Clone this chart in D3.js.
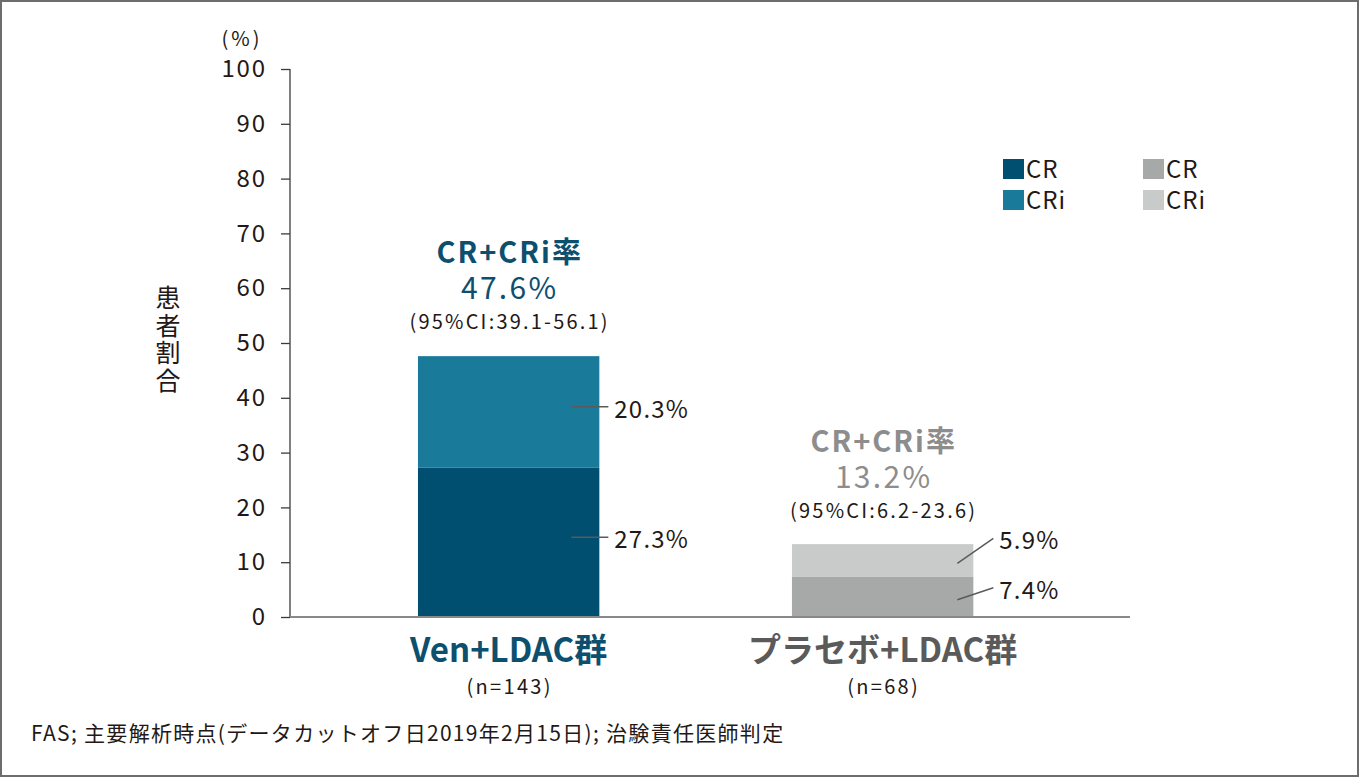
<!DOCTYPE html>
<html><head><meta charset="utf-8">
<script src="https://cdn.jsdelivr.net/npm/d3@7"></script>
<style>
html,body{margin:0;padding:0;background:#fff;}
svg text{font-family:"Noto Sans CJK JP","Noto Sans",sans-serif;}
</style></head>
<body><svg id="c" width="1360" height="778"></svg>
<script>
const groups = ["Ven+LDAC群", "プラセボ+LDAC群"];
const groupN = ["(n=143)", "(n=68)"];
const crValues = [27.3, 7.4];
const criValues = [20.3, 5.9];
const totalValues = [47.6, 13.2];
const ciLabels = ["(95%CI:39.1-56.1)", "(95%CI:6.2-23.6)"];
const yTicks = [0,10,20,30,40,50,60,70,80,90,100];
const legendLabels = ["CR", "CRi"];

const colorsCR = ["#004f71", "#a7a8a8"];
const colorsCRi = ["#1a7a9a", "#c9caca"];
const titleColors = ["#0d4f6e", "#8d8d8d"];
const groupLabelColors = ["#0d4f6e", "#5a5a5a"];
const textColor = "#231815";

const svg = d3.select("#c");
svg.append("rect").attr("x",1).attr("y",1).attr("width",1357).attr("height",775)
  .attr("fill","#fff").attr("stroke","#6d6d6d").attr("stroke-width",2);

const y = d3.scaleLinear().domain([0,100]).range([617,69]);
const x = d3.scaleBand().domain(groups).range([322.6,1068.7]).paddingInner(0.515).paddingOuter(0.255);

// y axis
const yAxis = d3.axisLeft(y).tickValues(yTicks).tickSize(9).tickPadding(16);
const gy = svg.append("g").attr("transform","translate(290,0)").call(yAxis);
gy.select(".domain").attr("stroke","#3e3a39").attr("stroke-width",1.3).attr("d","M0,"+y(100)+"V"+y(0));
gy.selectAll(".tick line").attr("stroke","#3e3a39").attr("stroke-width",1.3);
gy.selectAll(".tick text").attr("fill",textColor).attr("font-size",24).attr("letter-spacing",1.8)
  .attr("dx",1.8)
  .style("font-family",'"Noto Sans CJK JP",sans-serif');

svg.append("text").attr("x",242).attr("y",46).attr("text-anchor","middle")
  .attr("font-size",20).attr("letter-spacing",3).attr("fill",textColor).text("(%)");

// vertical y label
svg.append("text").attr("x",168).attr("y",285).attr("font-size",25).attr("fill",textColor)
  .attr("letter-spacing",2.5)
  .style("writing-mode","vertical-rl").style("text-orientation","upright")
  .text("患者割合");

// bars
groups.forEach((g,i)=>{
  const bx = x(g), bw = x.bandwidth();
  svg.append("rect").attr("x",bx).attr("width",bw)
    .attr("y",y(crValues[i])).attr("height",y(0)-y(crValues[i])).attr("fill",colorsCR[i]);
  svg.append("rect").attr("x",bx).attr("width",bw)
    .attr("y",y(crValues[i]+criValues[i])).attr("height",y(crValues[i])-y(crValues[i]+criValues[i]))
    .attr("fill",colorsCRi[i]);
});

// baseline
svg.append("line").attr("x1",290).attr("x2",1130).attr("y1",y(0)).attr("y2",y(0))
  .attr("stroke","#898989").attr("stroke-width",2);

// segment labels
const lab = svg.append("g");
{
  const i=0, g=groups[i], right = x(g)+x.bandwidth();
  const segs = [[crValues[i]/2, crValues[i]], [crValues[i]+criValues[i]/2, criValues[i]]];
  segs.forEach(([mid,v])=>{
    const yy = y(mid)-5;
    lab.append("line").attr("x1",right-28).attr("x2",right+9).attr("y1",yy).attr("y2",yy)
      .attr("stroke","#5a5a5a").attr("stroke-width",1.5);
    lab.append("text").attr("x",right+15).attr("y",yy+11).attr("font-size",24).attr("letter-spacing",1.2)
      .attr("fill",textColor).text(v.toFixed(1)+"%");
  });
}
{
  const i=1, g=groups[i], right = x(g)+x.bandwidth();
  const rise = [12, 25];
  const segs = [[crValues[i]/2, crValues[i]], [crValues[i]+criValues[i]/2, criValues[i]]];
  segs.forEach(([mid,v],k)=>{
    const yy = y(mid)+3;
    lab.append("line").attr("x1",right-16).attr("x2",right+20).attr("y1",yy).attr("y2",yy-rise[k])
      .attr("stroke","#5a5a5a").attr("stroke-width",1.5);
    lab.append("text").attr("x",right+26).attr("y",yy-rise[k]+11).attr("font-size",24).attr("letter-spacing",1.2)
      .attr("fill",textColor).text(v.toFixed(1)+"%");
  });
}

// titles above bars
groups.forEach((g,i)=>{
  const cx = x(g)+x.bandwidth()/2;
  const top = y(totalValues[i]);
  svg.append("text").attr("x",cx+1).attr("y",top-27).attr("text-anchor","middle")
    .attr("font-size",20).attr("letter-spacing",2.2).attr("fill",textColor).text(ciLabels[i]);
  svg.append("text").attr("x",cx+1).attr("y",top-57).attr("text-anchor","middle")
    .attr("font-size",30).attr("letter-spacing",2.3).attr("fill",titleColors[i]).text(totalValues[i].toFixed(1)+"%");
  svg.append("text").attr("x",cx+1).attr("y",top-93).attr("text-anchor","middle")
    .attr("font-size",29).attr("letter-spacing",2).attr("font-weight","bold").attr("fill",titleColors[i]).text("CR+CRi率");
  svg.append("text").attr("x",cx).attr("y",662).attr("text-anchor","middle")
    .attr("font-size",33).attr("font-weight","bold").attr("fill",groupLabelColors[i]).text(g);
  svg.append("text").attr("x",cx+1).attr("y",694).attr("text-anchor","middle")
    .attr("font-size",20).attr("letter-spacing",2.3).attr("fill",textColor).text(groupN[i]);
});

// legend
const legX = [1003, 1143];
groups.forEach((g,i)=>{
  [[colorsCR[i],legendLabels[0]],[colorsCRi[i],legendLabels[1]]].forEach(([c,t],j)=>{
    const ly = 159 + j*31;
    svg.append("rect").attr("x",legX[i]).attr("y",ly).attr("width",21).attr("height",20).attr("fill",c);
    svg.append("text").attr("x",legX[i]+23).attr("y",ly+19).attr("font-size",24).attr("letter-spacing",1)
      .attr("fill",textColor).text(t);
  });
});

// footnote
svg.append("text").attr("x",31).attr("y",741).attr("font-size",21).attr("letter-spacing",1.3).attr("fill",textColor)
  .text("FAS; 主要解析時点(データカットオフ日2019年2月15日); 治験責任医師判定");
</script></body></html>
